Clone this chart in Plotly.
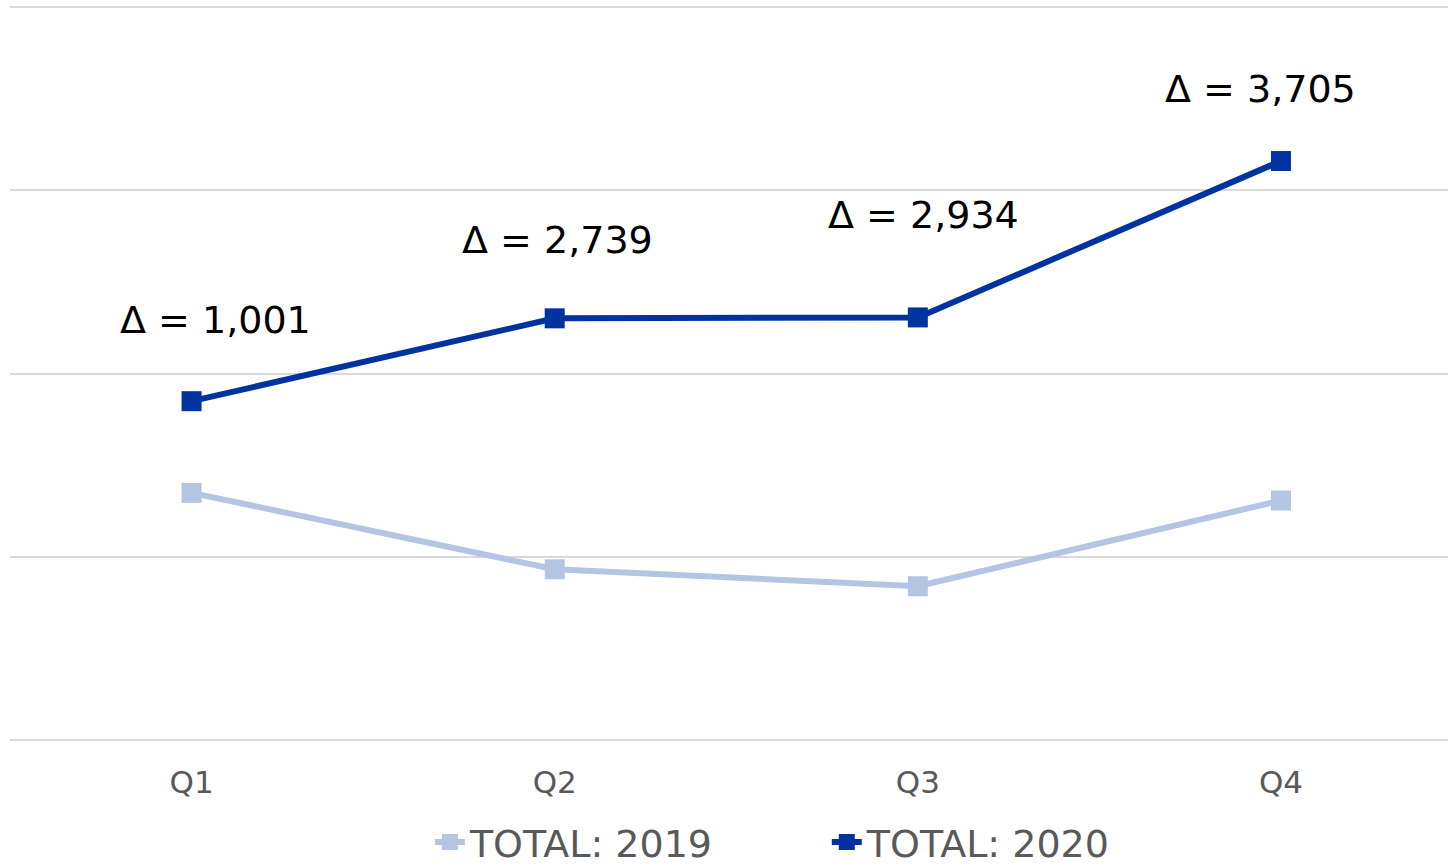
import plotly.graph_objects as go

quarters = ["Q1", "Q2", "Q3", "Q4"]
total_2019 = [2697, 1863, 1678, 2614]
total_2020 = [3698, 4602, 4612, 6319]
delta_labels = ["Δ = 1,001", "Δ = 2,739", "Δ = 2,934", "Δ = 3,705"]
label_xshift = [24, 3, 6, -20]
label_yshift = [81, 78, 102, 72]

FONT = "DejaVu Sans, Verdana, sans-serif"
c2019 = "#B4C5E4"
c2020 = "#0033A0"

fig = go.Figure()
fig.add_trace(go.Scatter(
    x=quarters, y=total_2019, mode="lines+markers", name="TOTAL: 2019",
    line=dict(color=c2019, width=6),
    marker=dict(symbol="square", size=20, color=c2019),
    legend="legend",
))
fig.add_trace(go.Scatter(
    x=quarters, y=total_2020, mode="lines+markers", name="TOTAL: 2020",
    line=dict(color=c2020, width=6),
    marker=dict(symbol="square", size=20, color=c2020),
    legend="legend2",
))

for q, v, t, xs, ys in zip(quarters, total_2020, delta_labels, label_xshift, label_yshift):
    fig.add_annotation(x=q, y=v, text=t, showarrow=False, xshift=xs, yshift=ys,
                       font=dict(family=FONT, size=38, color="#000000"))

legend_font = dict(family=FONT, size=38, color="#595959")
fig.update_layout(
    width=1448, height=867,
    margin=dict(l=10, r=0, t=5, b=125, autoexpand=False),
    plot_bgcolor="white", paper_bgcolor="white",
    font=dict(family=FONT),
    showlegend=True,
    legend=dict(orientation="h", x=0.292, xanchor="left", y=-0.136, yanchor="middle",
                font=legend_font, itemwidth=30, bgcolor="rgba(0,0,0,0)"),
    legend2=dict(orientation="h", x=0.568, xanchor="left", y=-0.136, yanchor="middle",
                 font=legend_font, itemwidth=30, bgcolor="rgba(0,0,0,0)"),
)
fig.update_xaxes(
    type="category", range=[-0.5, 3.46], showgrid=False, zeroline=False, showline=False,
    ticks="", ticklabelstandoff=19,
    tickfont=dict(family=FONT, size=31, color="#595959"),
)
fig.update_yaxes(
    range=[-22, 8022], tickvals=[0, 2000, 4000, 6000, 8000], showticklabels=False, showgrid=True,
    gridcolor="#D9D9D9", gridwidth=2, zeroline=False, showline=False, ticks="",
)

fig.write_html("out.html", config={"displayModeBar": False},
               post_script="document.body.style.margin='0px';")
